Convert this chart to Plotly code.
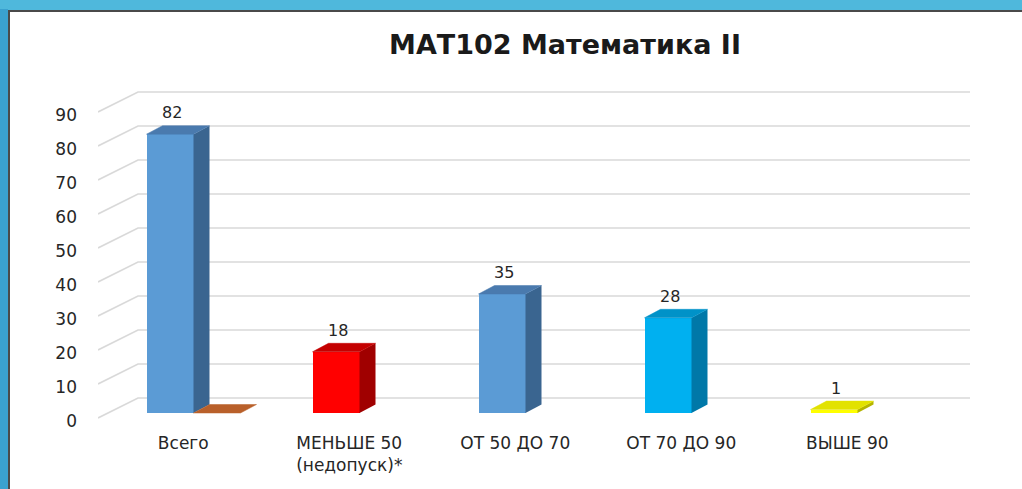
import plotly.graph_objects as go

# ---- data ----
categories = ["Всего", "МЕНЬШЕ 50<br>(недопуск)*", "ОТ 50 ДО 70", "ОТ 70 ДО 90", "ВЫШЕ 90"]
values = [82, 18, 35, 28, 1]
series2_values = [0, None, None, None, None]
y_ticks = [0, 10, 20, 30, 40, 50, 60, 70, 80, 90]
title_text = "МАТ102 Математика II"

front_colors = ["#5b9bd5", "#ff0000", "#5b9bd5", "#00b0f0", "#ffff00"]
side_colors = ["#3a6590", "#a00000", "#3a6590", "#0078a8", "#b4b400"]
top_colors = ["#4a7aae", "#c40000", "#4a7aae", "#0092c8", "#e2e200"]
s2_front, s2_side, s2_top = "#c55a11", "#8a3f0c", "#b9602a"

# ---- geometry (pixel-derived constants) ----
W, H = 1022, 489
L, R, T, B = 98, 970, 80, 425
x0_px, xu = 170, 166.0          # px of category 0 bar centre, px per category
y0_px, yu = 413, 3.4            # px of value 0 at bar front, px per unit
xr = [(L - x0_px) / xu, (R - x0_px) / xu]
yr = [(y0_px - B) / yu, (y0_px - T) / yu]
bw = 47 / xu                     # bar width
ddx = 16 / xu                    # depth offset x
ddy = 8.5 / yu                   # depth offset y
wall_dy = 15 / yu                # back wall offset
front_dy = -5 / yu               # front floor edge offset
diag_x0 = xr[0]
diag_x1 = (138 - x0_px) / xu

fig = go.Figure()

# back wall gridlines + side diagonals (drawn beneath the bars)
for v in y_ticks:
    fig.add_shape(type="path", xref="x", yref="y", layer="below",
                  path=f"M {diag_x0},{v + front_dy} L {diag_x1},{v + wall_dy} L {xr[1]},{v + wall_dy}",
                  line=dict(color="#d9d9d9", width=1.6))


def add_3d_bar(xc, v, sc, tc):
    xl, xrr = xc - bw / 2, xc + bw / 2
    # side face
    fig.add_trace(go.Scatter(
        x=[xrr, xrr + ddx, xrr + ddx, xrr, xrr],
        y=[0, ddy, v + ddy, v, 0],
        mode="lines", fill="toself", fillcolor=sc,
        line=dict(width=0, color=sc), hoverinfo="skip", showlegend=False))
    # top face
    fig.add_trace(go.Scatter(
        x=[xl, xrr, xrr + ddx, xl + ddx, xl],
        y=[v, v, v + ddy, v + ddy, v],
        mode="lines", fill="toself", fillcolor=tc,
        line=dict(width=0.5, color=tc), hoverinfo="skip", showlegend=False))


# series 1
for i, v in enumerate(values):
    add_3d_bar(i, v, side_colors[i], top_colors[i])
fig.add_trace(go.Bar(x=list(range(len(values))), y=values, width=bw,
                     marker=dict(color=front_colors, line=dict(width=0)),
                     showlegend=False, name="Серия 1"))

# series 2 (only a zero slab at "Всего")
for i, v in enumerate(series2_values):
    if v is not None:
        add_3d_bar(i + bw, v, s2_side, s2_top)

# value labels
for i, v in enumerate(values):
    fig.add_annotation(x=i + 0.012, y=v, text=str(v), showarrow=False,
                       yanchor="bottom", yshift=10,
                       font=dict(family="DejaVu Sans", size=16, color="#262626"))

# frame: white panel over blue background
px2x = lambda p: (p - L) / (R - L)
px2y = lambda p: (B - p) / (B - T)
fig.add_shape(type="rect", xref="paper", yref="paper", layer="below",
              x0=px2x(-20), x1=px2x(8), y0=px2y(520), y1=px2y(9),
              fillcolor="#3aa1cf", line=dict(width=0))
fig.add_shape(type="rect", xref="paper", yref="paper", layer="below",
              x0=px2x(9), x1=px2x(1040), y0=px2y(520), y1=px2y(11),
              fillcolor="#ffffff", line=dict(color="#4a4a4a", width=2))

fig.update_layout(
    width=W, height=H,
    margin=dict(l=L, r=W - R, t=T, b=H - B),
    paper_bgcolor="#4fb8dc",
    plot_bgcolor="rgba(0,0,0,0)",
    title=dict(text="<b>" + title_text + "</b>", x=565 / W, xref="container",
               xanchor="center", y=1 - 45 / H, yref="container", yanchor="middle",
               font=dict(family="DejaVu Sans", size=27, color="#1a1a1a")),
    xaxis=dict(range=xr, tickvals=[i + 0.08 for i in range(len(categories))],
               ticktext=categories, showgrid=False, zeroline=False,
               showline=False, ticks="", ticklabelstandoff=6,
               tickfont=dict(family="DejaVu Sans", size=17, color="#262626"),
               fixedrange=True),
    yaxis=dict(range=yr, tickvals=y_ticks, ticktext=[str(t) for t in y_ticks],
               showgrid=False, zeroline=False, showline=False, ticks="",
               ticklabelstandoff=20, ticklabelshift=8,
               tickfont=dict(family="DejaVu Sans", size=17, color="#262626"),
               fixedrange=True),
    showlegend=False,
    bargap=0,
)

fig.write_html("out.html", config={"displayModeBar": False},
               post_script="document.body.style.margin='0';")
